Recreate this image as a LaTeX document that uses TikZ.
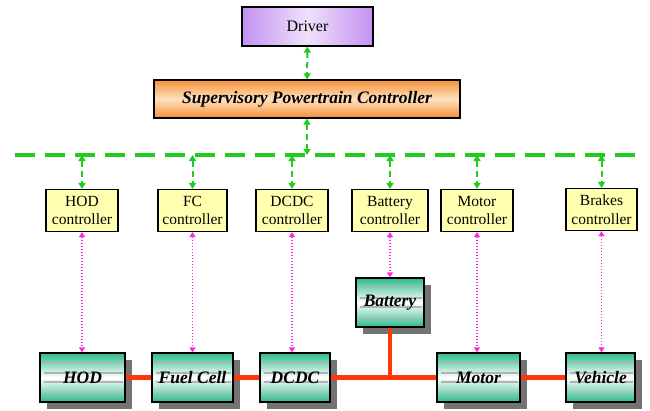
\documentclass[tikz,border=0pt]{standalone}
\usepackage{fontspec}
\setmainfont{Liberation Serif}
\usetikzlibrary{arrows.meta,calc,shadows}
\definecolor{drvpurple}{RGB}{195,145,240}
\definecolor{drvlight}{RGB}{240,225,252}
\definecolor{spcorange}{RGB}{245,145,55}
\definecolor{spclight}{RGB}{255,225,190}
\definecolor{ctrlyellow}{RGB}{255,255,175}
\definecolor{compteal}{RGB}{45,185,140}
\definecolor{busgreen}{RGB}{30,205,30}
\definecolor{sigmagenta}{RGB}{255,40,225}
\definecolor{pwrred}{RGB}{255,55,10}
\tikzset{
  box/.style={draw, line width=1.2pt, align=center, inner sep=2pt},
  drv/.style={box, left color=drvpurple, right color=drvpurple, middle color=drvlight, minimum width=131pt, minimum height=39pt, font=\fontsize{16}{18}\selectfont},
  spc/.style={box, top color=spcorange, bottom color=spcorange, middle color=spclight, minimum width=306pt, minimum height=38pt, font=\fontsize{17.5}{20}\selectfont\bfseries\itshape},
  ctrl/.style={box, fill=ctrlyellow, minimum width=72pt, minimum height=42pt, font=\fontsize{15.5}{18.5}\selectfont},
  comp/.style={box, top color=compteal, bottom color=compteal, middle color=white, minimum height=49pt, font=\fontsize{17.5}{19}\selectfont\bfseries\itshape,
    drop shadow={shadow xshift=7pt, shadow yshift=-7pt, fill=black!55, opacity=1},
    path picture={\foreach \f in {0.2,0.41,0.59,0.83}
      \draw[black!30] ($(path picture bounding box.north west)!\f!(path picture bounding box.south west)+(4pt,0)$) -- ($(path picture bounding box.north east)!\f!(path picture bounding box.south east)+(-2pt,0)$);}},
  bus/.style={busgreen, line width=4pt, dash pattern=on 20pt off 10pt},
  lnk/.style={{Triangle[length=6pt,width=7pt]}-{Triangle[length=6pt,width=7pt]}, busgreen, line width=2pt, dash pattern=on 6pt off 4pt},
  sig/.style={{Triangle[length=5pt,width=6pt]}-{Triangle[length=5pt,width=6pt]}, sigmagenta, line width=1.8pt, dash pattern=on 1.5pt off 1.5pt},
  pwr/.style={pwrred, line width=4.5pt}}

\begin{document}
\begin{tikzpicture}[x=1pt, y=-1pt]
  \useasboundingbox (0,0) rectangle (650,410);
  % top
  \node[drv] (drv) at (307.5,26.5) {Driver};
  \node[spc] (spc) at (307,99) {Supervisory Powertrain Controller};
  \draw[lnk] (drv) -- (spc);
  % bus
  \coordinate (busl) at (15,155);
  \coordinate (busr) at (640,155);
  \draw[bus] (busl) -- (busr);
  \draw[lnk] (spc) -- (spc.south |- busl);
  % controllers
  \node[ctrl] (hodc) at (82,210.5) {HOD\\controller};
  \node[ctrl, minimum width=69pt] (fcc) at (192.5,210.5) {FC\\controller};
  \node[ctrl] (dcdcc) at (292,210.5) {DCDC\\controller};
  \node[ctrl, minimum width=76pt] (batc) at (390,210.5) {Battery\\controller};
  \node[ctrl] (motc) at (477,210.5) {Motor\\controller};
  \node[ctrl, minimum width=71pt] (brkc) at (601.5,209.5) {Brakes\\controller};
  \foreach \c in {hodc,fcc,dcdcc,batc,motc,brkc}
    \draw[lnk] (\c.north |- busl) -- (\c.north);
  % components
  \node[comp, minimum width=85pt] (hod) at (82.5,377.5) {HOD};
  \node[comp, minimum width=81pt] (fc) at (192.5,377.5) {Fuel Cell};
  \node[comp, minimum width=70pt] (dcdc) at (295,377.5) {DCDC};
  \node[comp, minimum width=68pt] (bat) at (390,302.5) {Battery};
  \node[comp, minimum width=83pt] (mot) at (478.5,377.5) {Motor};
  \node[comp, minimum width=69pt] (veh) at (600.5,377.5) {Vehicle};
  % power links
  \draw[pwr] (hod) -- (fc);
  \draw[pwr] (fc) -- (dcdc);
  \draw[pwr] (dcdc) -- (mot);
  \draw[pwr] (mot) -- (veh);
  \draw[pwr] (bat) -- (bat.south |- dcdc.east);
  % signals
  \draw[sig] (hodc) -- (hodc.south |- hod.north);
  \draw[sig] (fcc) -- (fcc.south |- fc.north);
  \draw[sig] (dcdcc) -- (dcdcc.south |- dcdc.north);
  \draw[sig] (batc) -- (bat);
  \draw[sig] (motc) -- (motc.south |- mot.north);
  \draw[sig] (brkc) -- (brkc.south |- veh.north);
\end{tikzpicture}
\end{document}
